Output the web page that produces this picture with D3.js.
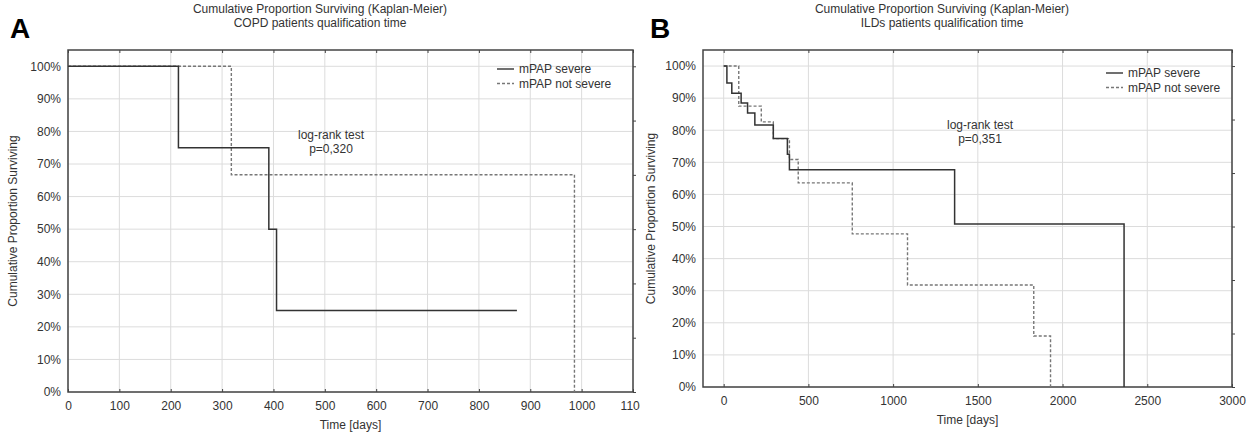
<!DOCTYPE html>
<html>
<head>
<meta charset="utf-8">
<script src="https://cdn.jsdelivr.net/npm/d3@7"></script>
<style>
  body { margin: 0; background: #fff; }
  text { font-family: "Liberation Sans", Arial, sans-serif; fill: #333; }
</style>
</head>
<body>
<script>
// panel A - COPD
const copdSevereDays = [0, 215, 391, 406, 874];
const copdSevereSurv = [1, 0.75, 0.5, 0.25, 0.25];
const copdNotSevereDays = [0, 318, 986];
const copdNotSevereSurv = [1, 0.667, 0];
const copdXTicks = [0, 100, 200, 300, 400, 500, 600, 700, 800, 900, 1000, 1100];

// panel B - ILDs
const ildSevereDays = [0, 19, 48, 103, 141, 184, 293, 376, 388, 1363, 2363];
const ildSevereSurv = [1, 0.947, 0.915, 0.885, 0.854, 0.816, 0.774, 0.725, 0.677, 0.508, 0];
const ildNotSevereDays = [0, 89, 222, 293, 388, 440, 759, 1085, 1830, 1929];
const ildNotSevereSurv = [1, 0.875, 0.826, 0.774, 0.709, 0.636, 0.477, 0.318, 0.159, 0];
const ildXTicks = [0, 500, 1000, 1500, 2000, 2500, 3000];

const yTicks = [0, 0.1, 0.2, 0.3, 0.4, 0.5, 0.6, 0.7, 0.8, 0.9, 1];
const legendLabels = ["mPAP severe", "mPAP not severe"];

const svg = d3.select("body").append("svg")
    .attr("width", 1259)
    .attr("height", 433);

svg.append("defs").append("clipPath").attr("id", "clipA")
    .append("rect").attr("x", 0).attr("y", 0).attr("width", 640).attr("height", 433);

function drawPanel(p) {
    const g = svg.append("g");
    if (p.clip) g.attr("clip-path", "url(#" + p.clip + ")");

    const x = d3.scaleLinear().domain(p.xDomain).range([p.left, p.right]);
    const y = d3.scaleLinear().domain([0, 1.05]).range([p.bottom, p.top]);

    // grid
    g.selectAll(".gx").data(p.xTicks).enter().append("line")
        .attr("x1", d => x(d)).attr("x2", d => x(d))
        .attr("y1", p.top).attr("y2", p.bottom)
        .attr("stroke", "#dcdcdc").attr("stroke-width", 1);
    g.selectAll(".gy").data(yTicks).enter().append("line")
        .attr("x1", p.left).attr("x2", p.right)
        .attr("y1", d => y(d)).attr("y2", d => y(d))
        .attr("stroke", "#dcdcdc").attr("stroke-width", 1);

    // axes
    const xAxis = g.append("g").attr("transform", `translate(0,${p.bottom})`)
        .call(d3.axisBottom(x).tickValues(p.xTicks).tickFormat(d3.format("d")).tickSize(-3).tickPadding(9));
    const yAxis = g.append("g").attr("transform", `translate(${p.left},0)`)
        .call(d3.axisLeft(y).tickValues(yTicks).tickFormat(d3.format(".0%")).tickSize(0).tickPadding(7));
    const topAxis = g.append("g").attr("transform", `translate(0,${p.top})`)
        .call(d3.axisTop(x).tickValues(p.xTicks).tickSize(-3).tickFormat(""));
    const rightAxis = g.append("g").attr("transform", `translate(${p.right},0)`)
        .call(d3.axisRight(d3.scaleLinear().domain([0, 6]).range([p.bottom, y(1)]))
            .ticks(6).tickSize(3).tickFormat(""));
    [xAxis, yAxis, topAxis, rightAxis].forEach(a => {
        a.select(".domain").remove();
        a.selectAll("line").attr("stroke", "#444");
        a.selectAll("text").attr("font-size", 12).attr("fill", "#333")
            .attr("font-family", "Liberation Sans, Arial, sans-serif");
    });

    g.append("rect")
        .attr("x", p.left).attr("y", p.top)
        .attr("width", p.right - p.left).attr("height", p.bottom - p.top)
        .attr("fill", "none").attr("stroke", "#444").attr("stroke-width", 1.5);

    // curves
    const line = d3.line().x(d => x(d[0])).y(d => y(d[1])).curve(d3.curveStepAfter);
    g.append("path")
        .datum(d3.zip(p.notSevereDays, p.notSevereSurv))
        .attr("d", line).attr("fill", "none")
        .attr("stroke", "#777").attr("stroke-width", 1.4).attr("stroke-dasharray", "3,2");
    g.append("path")
        .datum(d3.zip(p.severeDays, p.severeSurv))
        .attr("d", line).attr("fill", "none")
        .attr("stroke", "#333").attr("stroke-width", 1.5);

    // legend
    legendLabels.forEach((lab, i) => {
        const ly = p.legendY + i * 14.5;
        g.append("line")
            .attr("x1", p.legendX).attr("x2", p.legendX + 17)
            .attr("y1", ly).attr("y2", ly)
            .attr("stroke", i === 0 ? "#333" : "#777").attr("stroke-width", 1.4)
            .attr("stroke-dasharray", i === 0 ? null : "3,2");
        g.append("text").attr("x", p.legendX + 22).attr("y", ly + 4)
            .attr("font-size", 12).text(lab);
    });

    // log-rank
    g.append("text").attr("x", p.testX).attr("y", p.testY)
        .attr("text-anchor", "middle").attr("font-size", 12).text("log-rank test");
    g.append("text").attr("x", p.testX).attr("y", p.testY + 14)
        .attr("text-anchor", "middle").attr("font-size", 12).text(p.pValue);

    // titles
    g.append("text").attr("x", p.titleX).attr("y", 13)
        .attr("text-anchor", "middle").attr("font-size", 12)
        .text("Cumulative Proportion Surviving (Kaplan-Meier)");
    g.append("text").attr("x", p.titleX).attr("y", 27)
        .attr("text-anchor", "middle").attr("font-size", 12).text(p.subtitle);
    g.append("text").attr("x", (p.left + p.right) / 2).attr("y", p.bottom + 37)
        .attr("text-anchor", "middle").attr("font-size", 12).text("Time [days]");
    g.append("text")
        .attr("transform", `translate(${p.yTitleX},${(p.top + p.bottom) / 2}) rotate(-90)`)
        .attr("text-anchor", "middle").attr("font-size", 12)
        .text("Cumulative Proportion Surviving");
    g.append("text").attr("x", p.letterX).attr("y", 38)
        .attr("font-size", 28).attr("font-weight", "bold")
        .style("fill", "#000").text(p.letter);
}

drawPanel({
    letter: "A", letterX: 10, clip: "clipA",
    left: 68, right: 633, top: 50, bottom: 392,
    xDomain: [0, 1100], xTicks: copdXTicks,
    severeDays: copdSevereDays, severeSurv: copdSevereSurv,
    notSevereDays: copdNotSevereDays, notSevereSurv: copdNotSevereSurv,
    legendX: 497, legendY: 69,
    testX: 331, testY: 139, pValue: "p=0,320",
    titleX: 320, subtitle: "COPD patients qualification time",
    yTitleX: 17
});

drawPanel({
    letter: "B", letterX: 650,
    left: 703, right: 1232, top: 50, bottom: 387,
    xDomain: [-122, 3000], xTicks: ildXTicks,
    severeDays: ildSevereDays, severeSurv: ildSevereSurv,
    notSevereDays: ildNotSevereDays, notSevereSurv: ildNotSevereSurv,
    legendX: 1106, legendY: 73,
    testX: 980, testY: 129, pValue: "p=0,351",
    titleX: 942, subtitle: "ILDs patients qualification time",
    yTitleX: 655
});
</script>
</body>
</html>
